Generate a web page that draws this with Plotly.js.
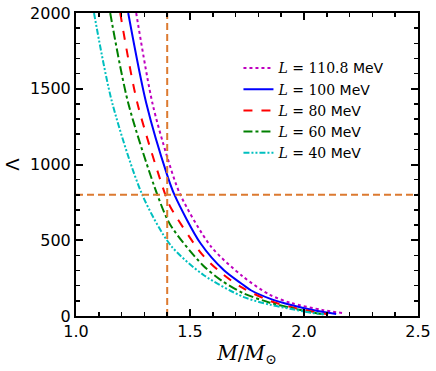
<!DOCTYPE html>
<html>
<head>
<meta charset="utf-8">
<script src="https://cdn.plot.ly/plotly-3.0.1.min.js"></script>
<style>
  html, body { margin: 0; padding: 0; background: #fff; }
  #plot { width: 436px; height: 371px; }
</style>
</head>
<body>
<div id="plot"></div>
<script>
const labels = ['110.8', '100', '80', '60', '40'];

const massL110 = [1.264, 1.335, 1.400, 1.458, 1.593, 1.731, 1.850, 1.943, 2.080, 2.176];
const lamL110  = [2000, 1406, 1050, 799, 457, 262, 140, 86, 40, 18];

const massL100 = [1.229, 1.308, 1.400, 1.432, 1.546, 1.650, 1.722, 1.767, 1.850, 1.943, 2.060, 2.141];
const lamL100  = [2000, 1406, 930, 799, 480, 300, 218, 170, 115, 73, 33, 13];

const massL80 = [1.194, 1.269, 1.392, 1.414, 1.555, 1.648, 1.731, 1.850, 1.943, 2.040, 2.106];
const lamL80  = [2000, 1406, 799, 720, 403, 271, 185, 100, 59, 28, 12];

const massL60 = [1.150, 1.229, 1.357, 1.414, 1.555, 1.640, 1.731, 1.850, 1.943, 2.030, 2.084];
const lamL60  = [2000, 1406, 799, 601, 337, 232, 152, 88, 53, 25, 12];

const massL40 = [1.079, 1.159, 1.291, 1.414, 1.559, 1.736, 1.850, 1.943, 2.030, 2.088];
const lamL40  = [2000, 1406, 799, 469, 271, 125, 75, 46, 22, 11];

const refMass = 1.4;     // вертикальная пунктирная линия
const refLambda = 800;   // горизонтальная пунктирная линия

const curves = [
    { x: massL110, y: lamL110, color: '#bf00bf', dash: 'dot' },
    { x: massL100, y: lamL100, color: '#0000ff', dash: 'solid' },
    { x: massL80,  y: lamL80,  color: '#ff0000', dash: 'dash' },
    { x: massL60,  y: lamL60,  color: '#008000', dash: 'dashdot' },
    { x: massL40,  y: lamL40,  color: '#00bfbf', dash: '6px,2px,2px,2px,2px,2px' },
];

const data = curves.map((c, i) => ({
    x: c.x,
    y: c.y,
    type: 'scatter',
    mode: 'lines',
    line: { color: c.color, dash: c.dash, width: 2, shape: 'spline', smoothing: 0.8 },
    name: '<span style="font-family:\'DejaVu Serif\'"><i>L</i> = ' + labels[i] + '</span> MeV',
}));

// оранжевые линии отсечки
const orange = '#dc7a30';
data.push({
    x: [refMass, refMass], y: [0, 2000], type: 'scatter', mode: 'lines',
    line: { color: orange, dash: '7px,4px', width: 2 }, showlegend: false,
});
data.push({
    x: [1.0, 2.5], y: [refLambda, refLambda], type: 'scatter', mode: 'lines',
    line: { color: orange, dash: '7px,4px', width: 2 }, showlegend: false,
});

const axisCommon = {
    showline: true, mirror: 'allticks', linecolor: '#000', linewidth: 2,
    ticks: 'inside', ticklen: 7, tickwidth: 2, tickcolor: '#000',
    showgrid: false, zeroline: false,
    tickfont: { family: 'DejaVu Sans', size: 16, color: '#000' },
};

const layout = {
    width: 436, height: 371,
    margin: { l: 76, r: 18, t: 13, b: 55 },
    paper_bgcolor: '#fff', plot_bgcolor: '#fff',
    showlegend: true,
    legend: {
        x: 0.475, y: 0.87, xanchor: 'left', yanchor: 'top',
        bgcolor: 'rgba(0,0,0,0)',
        font: { family: 'DejaVu Sans', size: 14, color: '#000' },
    },
    xaxis: Object.assign({}, axisCommon, {
        range: [1.0, 2.5], tickvals: [1.0, 1.5, 2.0, 2.5], ticktext: ['1.0', '1.5', '2.0', '2.5'],
        minor: { dtick: 0.1, ticks: 'inside', ticklen: 4, tickwidth: 1.5, tickcolor: '#000', showgrid: false },
        title: { text: '<i>M</i>/<i>M</i><sub>⊙</sub>', font: { family: 'DejaVu Serif', size: 20, color: '#000' }, standoff: 6 },
    }),
    yaxis: Object.assign({}, axisCommon, {
        range: [0, 2000], tickvals: [0, 500, 1000, 1500, 2000],
        minor: { dtick: 100, ticks: 'inside', ticklen: 4, tickwidth: 1.5, tickcolor: '#000', showgrid: false },
        title: { text: 'Λ', font: { family: 'DejaVu Sans', size: 18, color: '#000' }, standoff: 6 },
    }),
};

Plotly.newPlot('plot', data, layout, { displayModeBar: false, staticPlot: true });
</script>
</body>
</html>
